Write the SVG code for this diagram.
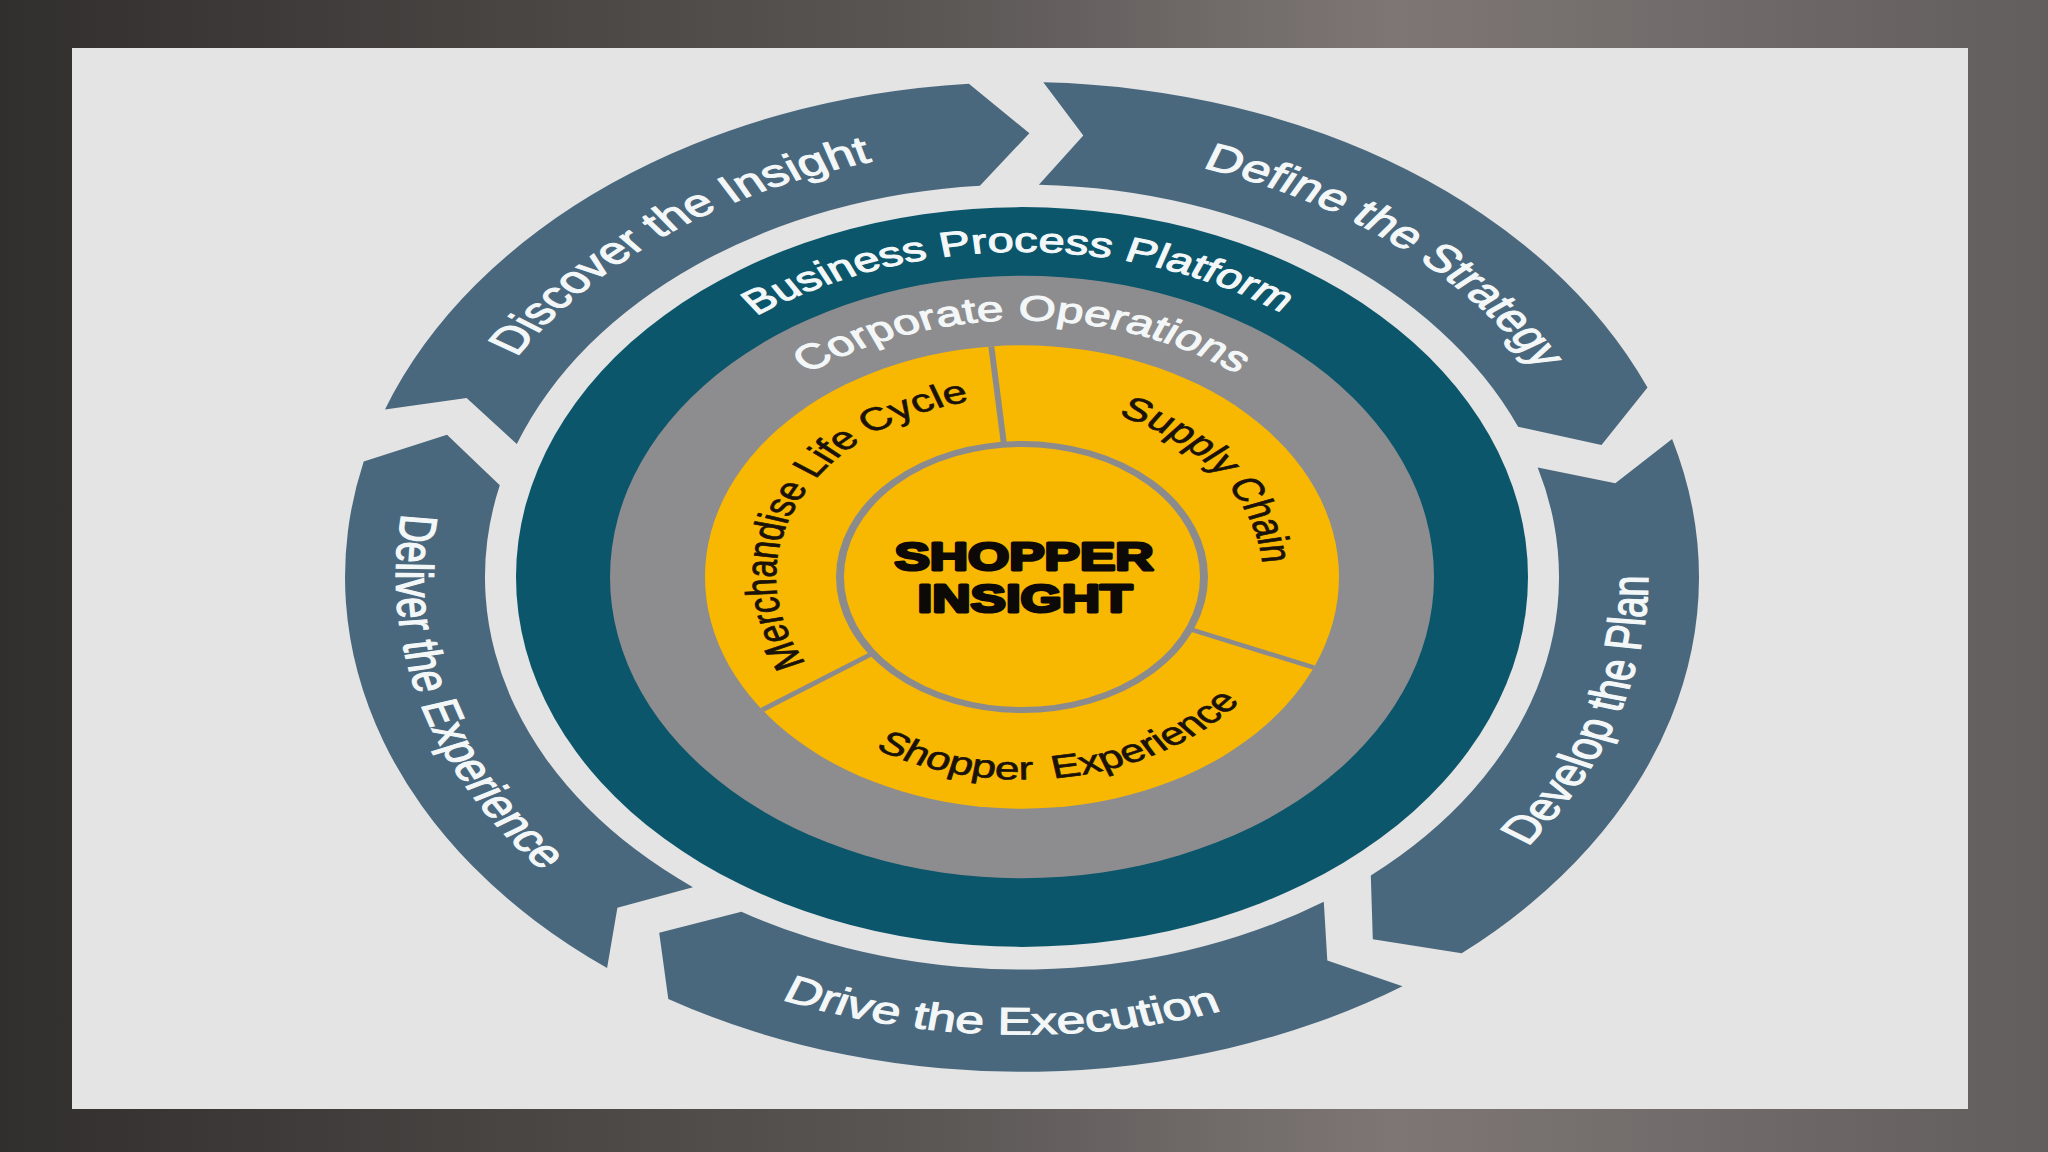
<svg xmlns="http://www.w3.org/2000/svg" width="2048" height="1152" viewBox="0 0 2048 1152">
<defs>
<linearGradient id="bg" x1="0" y1="0" x2="1" y2="0">
<stop offset="0" stop-color="#312f2d"/>
<stop offset="0.45" stop-color="#5a5654"/>
<stop offset="0.68" stop-color="#7d7675"/>
<stop offset="1" stop-color="#625e5d"/>
</linearGradient>
<path id="tp-discover" d="M -523.9 266.9 A 588 588 0 0 1 401.0 -430.0"/>
<path id="tp-define" d="M -381.9 -447.1 A 588 588 0 0 1 511.8 289.5"/>
<path id="tp-develop" d="M -87.1 619.9 A 626 626 0 0 0 293.9 -552.7"/>
<path id="tp-drive" d="M -619.9 87.1 A 626 626 0 0 0 612.3 130.2"/>
<path id="tp-deliver" d="M -274.4 -562.6 A 626 626 0 0 0 65.4 622.6"/>
<path id="tp-business" d="M -438.9 -73.4 A 445 445 0 0 1 437.5 -81.1"/>
<path id="tp-corporate" d="M -345.7 -61.0 A 351 351 0 0 1 345.7 -61.0"/>
<path id="tp-merch" d="M -139.3 202.7 A 246 246 0 0 1 61.6 -238.2"/>
<path id="tp-supply" d="M -103.8 -217.5 A 241 241 0 0 1 171.9 168.9"/>
<path id="tp-shopexp" d="M -260.3 94.7 A 277 277 0 0 0 277 0"/>
</defs>
<style>
.arrow{fill:#4a687d;}
.wlab{fill:#f3f7f8;stroke:#f3f7f8;stroke-width:1.4;font-family:"Liberation Sans",Arial,Helvetica,sans-serif;font-size:52px;}
.ring-lab{fill:#f3f7f8;stroke:#f3f7f8;stroke-width:1.4;font-family:"Liberation Sans",Arial,Helvetica,sans-serif;}
.blab{fill:#1a1208;stroke:#1a1208;stroke-width:0.9;font-family:"Liberation Sans",Arial,Helvetica,sans-serif;font-size:44px;}
.div{stroke:#8b8b8d;stroke-width:6;fill:none;}
.core{font-family:"Liberation Sans",Arial,sans-serif;font-weight:bold;font-size:53px;fill:#0d0906;stroke:#0d0906;stroke-width:4;stroke-linejoin:round;}
</style>
<rect x="0" y="0" width="2048" height="1152" fill="url(#bg)"/>
<rect x="72" y="48" width="1896" height="1061" fill="#e4e4e4"/>
<g transform="translate(1022,577) scale(1,0.731)">
<g id="arrow-define">
<path class="arrow" d="M 21.3 -676.7 A 677 677 0 0 1 625.5 -259.1 L 579.5 -180.5 L 496.1 -205.5 A 537 537 0 0 0 16.9 -536.7 L 61.3 -603.9 Z"/>
<text class="wlab"><textPath href="#tp-define" startOffset="50%" text-anchor="middle">Define the Strategy</textPath></text>
</g>
<g id="arrow-develop">
<path class="arrow" d="M 650.1 -188.9 A 677 677 0 0 1 439.7 514.8 L 350.8 495.4 L 348.8 408.3 A 537 537 0 0 0 515.7 -149.8 L 593.3 -128.3 Z"/>
<text class="wlab"><textPath href="#tp-develop" startOffset="50%" text-anchor="middle">Develop the Plan</textPath></text>
</g>
<g id="arrow-drive">
<path class="arrow" d="M 380.5 559.9 A 677 677 0 0 1 -353.7 577.2 L -362.8 486.7 L -280.6 457.9 A 537 537 0 0 0 301.8 444.1 L 305.3 524.6 Z"/>
<text class="wlab"><textPath href="#tp-drive" startOffset="50%" text-anchor="middle">Drive the Execution</textPath></text>
</g>
<g id="arrow-deliver">
<path class="arrow" d="M -414.9 534.9 A 677 677 0 0 1 -658.3 -158.0 L -575.0 -194.6 L -522.2 -125.4 A 537 537 0 0 0 -329.1 424.3 L -404.6 452.5 Z"/>
<text class="wlab"><textPath href="#tp-deliver" startOffset="50%" text-anchor="middle">Deliver the Experience</textPath></text>
</g>
<g id="arrow-discover">
<path class="arrow" d="M -637.0 -229.3 A 677 677 0 0 1 -53.1 -674.9 L 7.4 -607.0 L -42.1 -535.3 A 537 537 0 0 0 -505.2 -181.9 L -555.4 -245.0 Z"/>
<text class="wlab"><textPath href="#tp-discover" startOffset="50%" text-anchor="middle">Discover the Insight</textPath></text>
</g>
<g id="ring-business">
<circle r="506" fill="#0b566b"/>
<text class="ring-lab" font-size="47"><textPath href="#tp-business" startOffset="50%" text-anchor="middle">Business Process Platform</textPath></text>
</g>
<g id="ring-corporate">
<circle r="412" fill="#8d8d8f"/>
<text class="ring-lab" font-size="48"><textPath href="#tp-corporate" startOffset="50%" text-anchor="middle">Corporate Operations</textPath></text>
</g>
<g id="ring-core">
<circle r="317" fill="#f8b700"/>
<g id="dividers">
<line class="div" x1="-18.0" y1="-181.1" x2="-30.7" y2="-315.5"/>
<line class="div" x1="167.5" y1="71.1" x2="291.8" y2="123.9"/>
<line class="div" x1="-149.1" y1="104.4" x2="-259.7" y2="181.8"/>
</g>
<g id="seg-merchandise">
<text class="blab"><textPath href="#tp-merch" startOffset="50%" text-anchor="middle">Merchandise Life Cycle</textPath></text>
</g>
<g id="seg-supply">
<text class="blab"><textPath href="#tp-supply" startOffset="50%" text-anchor="middle">Supply Chain</textPath></text>
</g>
<g id="seg-shopper-experience">
<text class="blab" word-spacing="8"><textPath href="#tp-shopexp" startOffset="50%" text-anchor="middle">Shopper Experience</textPath></text>
</g>
</g>
<g id="center-shopper-insight">
<circle r="182" fill="#f8b700" stroke="#8b8b8d" stroke-width="8"/>
<text class="core" x="2" y="-9.6" text-anchor="middle">SHOPPER</text>
<text class="core" x="3" y="47.9" text-anchor="middle">INSIGHT</text>
</g>
</g>
</svg>
